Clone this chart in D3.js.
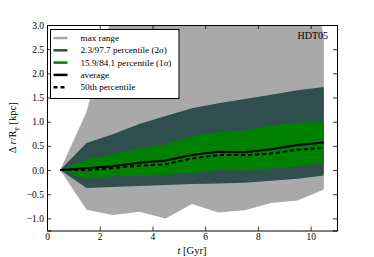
<!DOCTYPE html>
<html>
<head>
<meta charset="utf-8">
<script src="https://cdn.jsdelivr.net/npm/d3@7"></script>
<style>
body { margin: 0; background: #fff; }
svg text { font-family: "Liberation Serif", "DejaVu Serif", serif; fill: #000; }
</style>
</head>
<body>
<div></div>
<script>
const WIDTH = 374;
const HEIGHT = 257;
const MARGIN = {left: 47, right: 37, top: 25, bottom: 26.5};

// data
const times = [0.5, 1.5, 2.5, 3.5, 4.5, 5.5, 6.5, 7.5, 8.5, 9.5, 10.5];
const maxLow = [0, -0.82, -0.93, -0.86, -1.0, -0.70, -0.88, -0.83, -0.68, -0.63, -0.40];
const maxHigh = [0, 1.2, 3.3, 3.8, 4.2, 4.5, 4.7, 4.8, 4.9, 5.0, 2.78];
const sig2Low = [0, -0.37, -0.35, -0.33, -0.31, -0.29, -0.28, -0.26, -0.22, -0.18, -0.11];
const sig2High = [0, 0.56, 0.74, 0.95, 1.12, 1.28, 1.38, 1.47, 1.56, 1.65, 1.72];
const sig1Low = [0, -0.18, -0.13, -0.12, -0.10, -0.06, 0.0, -0.01, 0.03, 0.08, 0.15];
const sig1High = [0, 0.22, 0.32, 0.44, 0.53, 0.70, 0.78, 0.82, 0.92, 0.98, 1.01];
const average = [0, 0.04, 0.08, 0.15, 0.20, 0.31, 0.38, 0.37, 0.43, 0.52, 0.57];
const median = [0, 0.0, 0.04, 0.09, 0.12, 0.24, 0.31, 0.31, 0.34, 0.42, 0.46];
const xTicks = [0, 2, 4, 6, 8, 10];
const yTicks = [-1.0, -0.5, 0.0, 0.5, 1.0, 1.5, 2.0, 2.5, 3.0];
const legendLabels = ['max range', '2.3/97.7 percentile (2\u03c3)', '15.9/84.1 percentile (1\u03c3)', 'average', '50th percentile'];

const svg = d3.select('div').append('svg')
    .attr('width', WIDTH)
    .attr('height', HEIGHT);

const x = d3.scaleLinear().domain([0, 11]).range([MARGIN.left, WIDTH - MARGIN.right]);
const y = d3.scaleLinear().domain([-1.25, 3.0]).range([HEIGHT - MARGIN.bottom, MARGIN.top]);

svg.append('clipPath').attr('id', 'plotClip')
  .append('rect')
    .attr('x', x(0)).attr('y', y(3.0))
    .attr('width', x(11) - x(0)).attr('height', y(-1.25) - y(3.0));

const plot = svg.append('g').attr('clip-path', 'url(#plotClip)');

// bands
function band(lo, hi, color) {
    const area = d3.area()
        .x((d, i) => x(times[i]))
        .y0((d, i) => y(lo[i]))
        .y1((d, i) => y(hi[i]));
    plot.append('path')
        .datum(times)
        .attr('d', area)
        .attr('fill', color);
}
band(maxLow, maxHigh, '#a9a9a9');
band(sig2Low, sig2High, '#2f4f4f');
band(sig1Low, sig1High, '#008000');

const line = d3.line().x((d, i) => x(times[i])).y(d => y(d));
plot.append('path').datum(average)
    .attr('d', line).attr('fill', 'none')
    .attr('stroke', '#000').attr('stroke-width', 2);
plot.append('path').datum(median)
    .attr('d', line).attr('fill', 'none')
    .attr('stroke', '#000').attr('stroke-width', 2)
    .attr('stroke-dasharray', '4,3');

// axes (ticks inside, on all four sides)
const fmt = d3.format('.1f');
const bottomAxis = d3.axisBottom(x).tickValues(xTicks).tickSize(-4).tickPadding(3).tickFormat(d3.format('d'));
const topAxis = d3.axisTop(x).tickValues(xTicks).tickSize(-4).tickFormat('');
const leftAxis = d3.axisLeft(y).tickValues(yTicks).tickSize(-4).tickPadding(3)
    .tickFormat(d => (d < 0 ? '\u2212' + fmt(-d) : fmt(d)));
const rightAxis = d3.axisRight(y).tickValues(yTicks).tickSize(-4).tickFormat('');

svg.append('g').attr('transform', 'translate(0,' + y(-1.25) + ')').call(bottomAxis);
svg.append('g').attr('transform', 'translate(0,' + y(3.0) + ')').call(topAxis);
svg.append('g').attr('transform', 'translate(' + x(0) + ',0)').call(leftAxis);
svg.append('g').attr('transform', 'translate(' + x(11) + ',0)').call(rightAxis);

svg.selectAll('.domain').attr('stroke', '#000').attr('stroke-width', 1);
svg.selectAll('.tick line').attr('stroke', '#000').attr('stroke-width', 0.8);
svg.selectAll('.tick text')
    .attr('font-size', 9.5)
    .style('font-family', '"Liberation Serif", serif');

// axis labels
const xl = svg.append('text')
    .attr('x', (x(0) + x(11)) / 2)
    .attr('y', 254)
    .attr('text-anchor', 'middle')
    .attr('font-size', 10.5);
xl.append('tspan').attr('font-style', 'italic').text('t');
xl.append('tspan').text(' [Gyr]');

const yl = svg.append('text')
    .attr('transform', 'translate(16,' + ((y(3.0) + y(-1.25)) / 2) + ') rotate(-90)')
    .attr('text-anchor', 'middle')
    .attr('font-size', 10.5);
yl.append('tspan').text('\u0394 ');
yl.append('tspan').attr('font-style', 'italic').text('r');
yl.append('tspan').text('/R');
yl.append('tspan').attr('font-size', 7.5).attr('dy', 2.5).text('e');
yl.append('tspan').attr('dy', -2.5).text(' [kpc]');

// run label
svg.append('text')
    .attr('x', 328)
    .attr('y', 39)
    .attr('text-anchor', 'end')
    .attr('font-size', 10)
    .text('HDT05');

// legend
const legend = svg.append('g').attr('transform', 'translate(50.5,29.5)');
legend.append('rect')
    .attr('width', 128.5)
    .attr('height', 69)
    .attr('fill', '#fff')
    .attr('stroke', '#000')
    .attr('stroke-width', 1);
const legendColors = ['#a9a9a9', '#2f4f4f', '#008000', '#000', '#000'];
const legendRows = d3.range(legendLabels.length);
legend.selectAll('line.handle')
    .data(legendRows)
    .join('line')
    .attr('class', 'handle')
    .attr('x1', 3).attr('x2', 17)
    .attr('y1', i => 8.5 + i * 12.3).attr('y2', i => 8.5 + i * 12.3)
    .attr('stroke', i => legendColors[i])
    .attr('stroke-width', 2.5)
    .attr('stroke-dasharray', i => (i === 4 ? '4,3' : null));
legend.selectAll('text.lbl')
    .data(legendRows)
    .join('text')
    .attr('class', 'lbl')
    .attr('x', 30)
    .attr('y', i => 11.5 + i * 12.3)
    .attr('font-size', 9.2)
    .each(function (i) {
        const t = d3.select(this);
        const s = legendLabels[i];
        const k = s.indexOf('\u03c3');
        if (k < 0) { t.text(s); return; }
        t.append('tspan').text(s.slice(0, k));
        t.append('tspan').attr('font-style', 'italic').text('\u03c3');
        t.append('tspan').text(s.slice(k + 1));
    });
</script>
</body>
</html>
